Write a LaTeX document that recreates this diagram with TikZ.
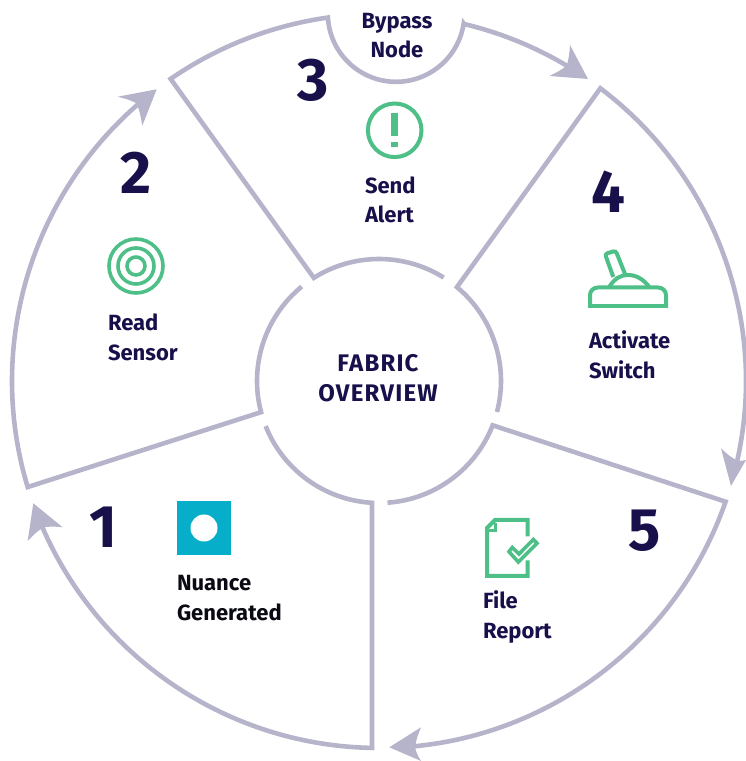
\documentclass[tikz,border=0pt]{standalone}
\usepackage{fontspec}
\setmainfont{Fira Sans}
\usetikzlibrary{calc}
\definecolor{ringc}{HTML}{B6B4CB}
\definecolor{navy}{HTML}{17104A}
\definecolor{greenc}{HTML}{4DBF87}
\definecolor{tealc}{HTML}{06AECA}
\definecolor{blk}{HTML}{0A0A14}
\tikzset{
  ring/.style={draw=ringc,line width=4.6pt,line cap=butt,line join=miter,miter limit=10},
  px/.style={x=1pt,y=-1pt,yshift=761pt},
  ico/.style={draw=greenc,line width=4pt,line join=miter},
  label/.style={inner sep=0pt,outer sep=0pt,align=left,anchor=west,text=navy,font=\fontsize{22}{29.5}\selectfont\bfseries},
  num/.style={inner sep=0pt,outer sep=0pt,anchor=center,text=navy,font=\fontsize{60}{60}\selectfont\bfseries}
}
% filled head: tip, barb, notch, barb (slightly concave sides)
\newcommand\arrowheadat[4]{%
  \fill[ringc] #1 .. controls ($#1!0.5!#2!0.04!#3$) .. #2
     .. controls ($#2!0.5!#3!0.04!#1$) .. #3
     .. controls ($#3!0.5!#4!0.04!#1$) .. #4
     .. controls ($#4!0.5!#1!0.04!#3$) .. cycle;}
\begin{document}
\begin{tikzpicture}[x=1pt,y=1pt]
\useasboundingbox (0,0) rectangle (746,761);
\begin{scope}[shift={(379pt,380pt)}]
  % segment 3
  \draw[ring] (58:122) arc[start angle=58,end angle=122.3,radius=122] -- (124.6:367)
     arc[start angle=124.6,end angle=98,radius=367]
     arc[start angle=183.4,end angle=351.6,radius=68.3] -- (76.6:367)
     arc[start angle=76.6,end angle=58.6,radius=367];
  % segment 4
  \draw[ring] (-14.7:122) arc[start angle=-14.7,end angle=50.3,radius=122] -- (52.9:367)
     arc[start angle=52.9,end angle=-13,radius=367];
  % segment 5
  \draw[ring] (-86:122) arc[start angle=-86,end angle=-21.3,radius=122] -- (-19.2:367)
     arc[start angle=-19.2,end angle=-85,radius=367];
  % segment 1
  \draw[ring] (201.7:122) arc[start angle=201.7,end angle=266.7,radius=122] -- (268.9:367)
     arc[start angle=268.9,end angle=203,radius=367];
  % segment 2
  \draw[ring] (129.3:122) arc[start angle=129.3,end angle=194.8,radius=122] -- (196.8:367)
     arc[start angle=196.8,end angle=130.5,radius=367];
\end{scope}
\begin{scope}[px]
  % arrowheads
  \arrowheadat{(588,79)}{(570,45)}{(566.7,65.7)}{(549.3,76)}
  \arrowheadat{(731,486)}{(721,448.3)}{(736,460)}{(746,460)}
  \arrowheadat{(389.3,747.3)}{(421,727.3)}{(415,747.3)}{(421,761)}
  \arrowheadat{(33.3,503.3)}{(62.7,527.3)}{(43.3,527.3)}{(27.7,541)}
  \arrowheadat{(156.7,89.3)}{(117.7,96.7)}{(136.7,103.3)}{(142.3,125.7)}
  % numbers
  \node[num] (n1) at (103,527) {1};
  \node[num] (n2) at (136.5,173) {2};
  \node[num] (n3) at (313,80) {3};
  \node[num] (n4) at (608,192) {4};
  \node[num] (n5) at (644.5,531) {5};
  % labels
  \node[label,anchor=center,align=center] (bypass) at (397,35.5) {Bypass\\Node};
  \node[label] (alert) at (365,200) {Send\\Alert};
  \node[label] (sensor) at (108,337.5) {Read\\Sensor};
  \node[label] (switchl) at (589,355) {Activate\\Switch};
  \node[label] (report) at (483,617) {File\\Report};
  \node[label,text=blk] (nuance) at (177,598) {Nuance\\Generated};
  \node[label,anchor=center,align=center,font=\fontsize{24}{29.5}\selectfont\bfseries\addfontfeature{LetterSpace=5}] (center) at (378,378) {FABRIC\\OVERVIEW};
  % alert icon
  \draw[ico] (394.7,130.3) circle[radius=26.8];
  \fill[greenc] (390.7,112.7) rectangle (398.3,136);
  \fill[greenc] (390.7,141.7) rectangle (398.3,146.7);
  % target icon
  \draw[ico,line width=3.6pt] (136,266) circle[radius=27] (136,266) circle[radius=18] (136,266) circle[radius=9];
  % teal square
  \fill[tealc] (177,501) rectangle (231,555);
  \fill[white] (204,528) circle[radius=13.5];
  % switch icon
  \draw[ico] (590,308) -- (590,295) to[out=90,in=180] (598,287.5) -- (658,287.5) to[out=0,in=90] (666,295) -- (666,308);
  \draw[ico] (588,306) -- (668,306);
  \draw[ico] (609.5,286.5) .. controls (615,278) and (621,275) .. (628,275) .. controls (636,275) and (643,279) .. (649,286.5);
  \draw[ico,rounded corners=2.5pt] (613.3,277) -- (605,254) -- (615.7,250.7) -- (625,274);
  % report icon
  \draw[ico] (527.7,536.5) -- (527.7,520) -- (495,520) -- (487,528) -- (487,576) -- (527.7,576) -- (527.7,560.5);
  \draw[ico,line width=3.2pt] (495.5,523) -- (495.5,530.5) -- (489,530.5);
  \draw[ico,line width=3.6pt] (509,551.7) -- (518.3,562) -- (537,543.3) -- (533.3,539.5) -- (519,554) -- (512.3,547.5) -- cycle;
\end{scope}
\end{tikzpicture}
\end{document}
